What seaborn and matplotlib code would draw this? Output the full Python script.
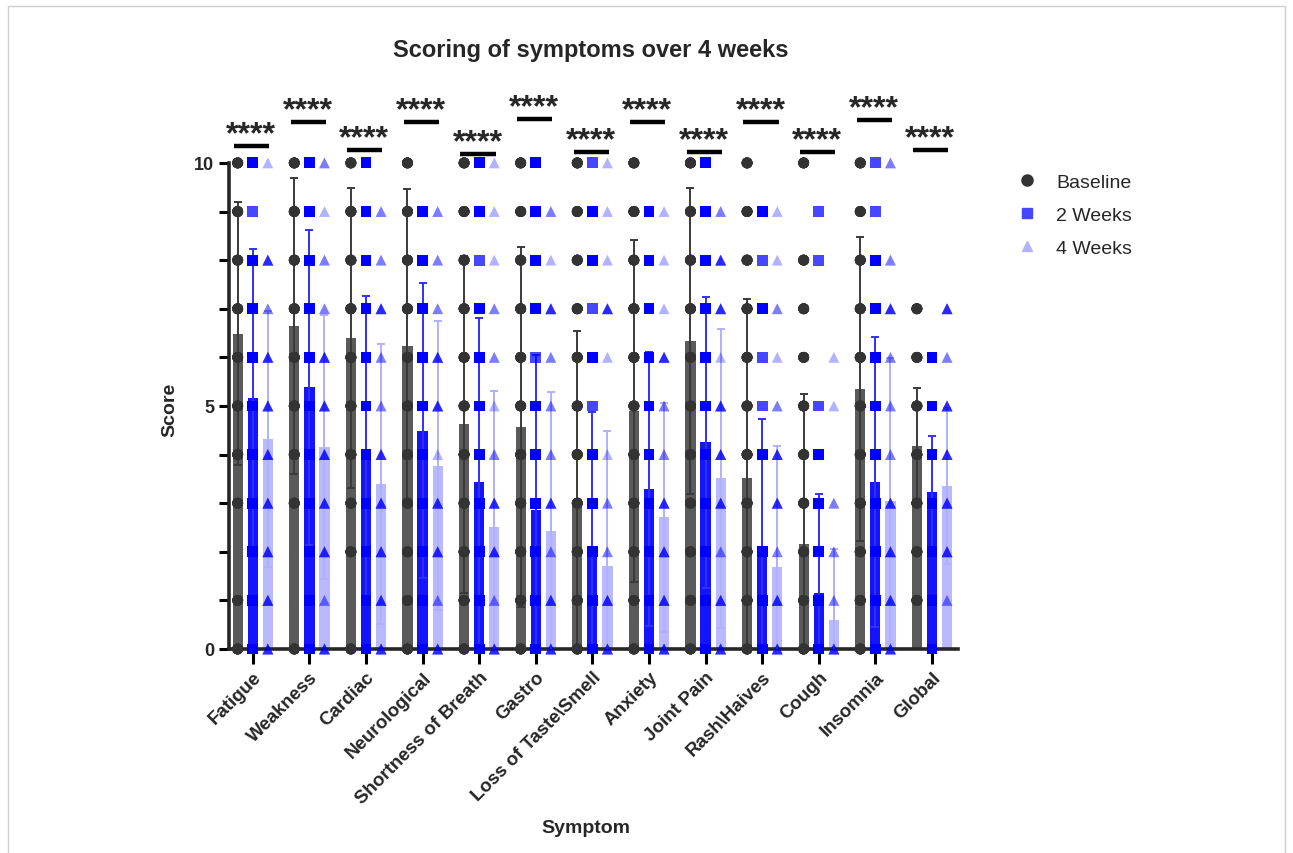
import numpy as np
import pandas as pd
import matplotlib
matplotlib.use("Agg")
import matplotlib.pyplot as plt
from matplotlib.lines import Line2D
from matplotlib.patches import Rectangle
import seaborn as sns

symptoms = ["Fatigue", "Weakness", "Cardiac", "Neurological", "Shortness of Breath", "Gastro",
            "Loss of Taste\\Smell", "Anxiety", "Joint Pain", "Rash\\Haives", "Cough", "Insomnia", "Global"]
timepoints = ["Baseline", "2 Weeks", "4 Weeks"]

baseline_mean = [6.49, 6.64, 6.40, 6.24, 4.62, 4.56, 2.96, 4.90, 6.33, 3.51, 2.17, 5.35, 4.18]
baseline_sd = [2.70, 3.04, 3.09, 3.23, 3.47, 3.70, 3.58, 3.52, 3.15, 3.69, 3.07, 3.13, 1.19]
wk2_mean = [5.16, 5.38, 4.09, 4.49, 3.43, 2.85, 2.09, 3.29, 4.25, 2.06, 1.15, 3.43, 3.24]
wk2_sd = [3.06, 3.24, 3.18, 3.03, 3.38, 3.20, 2.78, 2.81, 3.00, 2.67, 2.04, 2.98, 1.15]
wk4_mean = [4.32, 4.16, 3.40, 3.77, 2.52, 2.43, 1.70, 2.71, 3.51, 1.69, 0.60, 3.05, 3.35]
wk4_sd = [2.63, 2.71, 2.88, 2.97, 2.78, 2.85, 2.79, 2.35, 3.07, 2.49, 1.45, 2.93, 1.60]

# individual scores: character i = score i (0..10); digit = how dense the stack looks
# 0 none, 1 single, 2 a few, 3 many
baseline_pts = ["33033333333", "30033333333", "30333333333", "33333333333", "33333333333",
                "33333333333", "33333333333", "33333333333", "33333333333", "33333333333",
                "33333333303", "33333333333", "03333333000"]
wk2_pts = ["33333333313", "33333333333", "33333333333", "33333333330", "33333333133",
           "33333313333", "33333131331", "33333333330", "33333333333", "33303113130",
           "33333100110", "33333333311", "33333330000"]
wk4_pts = ["33333332301", "32333332212", "33333223220", "32331332220", "32332122111",
           "33232223120", "33221013111", "33332231110", "33233313320", "33233212110",
           "32220110000", "33332223202", "02333323000"]

# significance bar heights (score units) and labels
sig_heights = [10.35, 10.84, 10.27, 10.84, 10.19, 10.90, 10.23, 10.84, 10.23, 10.84, 10.23, 10.88, 10.27]
sig_labels = ["****"] * 13

bar_colors = {"Baseline": "#5a5a5a", "2 Weeks": "#1414ff", "4 Weeks": "#b9b9ff"}
pt_colors = {"Baseline": "#333333", "2 Weeks": "#0000ff", "4 Weeks": "#0000ff"}
pt_alpha = {"Baseline": 1.0, "2 Weeks": 0.72, "4 Weeks": 0.3}
pt_marker = {"Baseline": "o", "2 Weeks": "s", "4 Weeks": "^"}
err_colors = {"Baseline": "#3a3a3a", "2 Weeks": "#3030ff", "4 Weeks": "#b0b0ff"}
stack = {"1": 1, "2": 2, "3": 5}

sns.set_style("ticks")
plt.rcParams["font.family"] = ["Liberation Sans", "DejaVu Sans"]

bars = pd.DataFrame({
    "symptom": symptoms * 3,
    "timepoint": np.repeat(timepoints, len(symptoms)),
    "mean": baseline_mean + wk2_mean + wk4_mean,
    "sd": baseline_sd + wk2_sd + wk4_sd,
})

rows = []
for tp, pts in zip(timepoints, [baseline_pts, wk2_pts, wk4_pts]):
    for sym, code in zip(symptoms, pts):
        for score, level in enumerate(code):
            if level != "0":
                rows += [(sym, tp, score)] * stack[level]
points = pd.DataFrame(rows, columns=["symptom", "timepoint", "score"])

fig = plt.figure(figsize=(12.93, 8.54), dpi=100)
ax = fig.add_axes([229 / 1293, 1 - 650 / 854, 729 / 1293, 559 / 854])

sns.barplot(data=bars, x="symptom", y="mean", hue="timepoint", order=symptoms, hue_order=timepoints,
            palette=bar_colors, width=0.8, gap=0.32, saturation=1, errorbar=None, legend=False,
            linewidth=0, ax=ax, zorder=2)

offsets = {"Baseline": -0.8 / 3, "2 Weeks": 0.0, "4 Weeks": 0.8 / 3}
xpos = np.arange(len(symptoms))
for tp in timepoints:
    sub = bars[bars.timepoint == tp]
    ax.errorbar(xpos + offsets[tp], sub["mean"], yerr=sub["sd"], fmt="none", ecolor=err_colors[tp],
                elinewidth=1.4, capsize=3, capthick=1.4, zorder=3)

for tp in timepoints:
    sns.stripplot(data=points[points.timepoint == tp], x="symptom", y="score", hue="timepoint",
                  order=symptoms, hue_order=timepoints, dodge=True, jitter=False,
                  palette={t: pt_colors[tp] for t in timepoints}, marker=pt_marker[tp],
                  size=7.8, alpha=pt_alpha[tp], linewidth=0, legend=False, ax=ax,
                  clip_on=False, zorder=4)

for i, (h, lab) in enumerate(zip(sig_heights, sig_labels)):
    ax.plot([i - 0.33, i + 0.29], [h, h], color="black", lw=3.2, solid_capstyle="butt", clip_on=False)
    ax.text(i - 0.03, h + 0.08, lab, ha="center", va="baseline", fontsize=23, fontweight="bold",
            clip_on=False)

ax.set_xlim(-0.42, 12.46)
ax.set_ylim(0, 11.5)
ax.set_yticks(range(11))
ax.set_yticklabels(["0", "", "", "", "", "5", "", "", "", "", "10"], fontweight="bold", fontsize=13)
ax.set_xticks(xpos)
ax.set_xticklabels(symptoms, rotation=45, ha="right", rotation_mode="anchor",
                   fontweight="bold", fontsize=13.5)
ax.tick_params(axis="both", direction="out", length=7, width=2.2, color="black")
ax.tick_params(axis="x", length=11, pad=3)

sns.despine(ax=ax)
ax.spines["left"].set_bounds(0, 10)
ax.spines["left"].set_linewidth(2.6)
ax.spines["bottom"].set_linewidth(2.6)

ax.set_ylabel("Score", fontweight="bold", fontsize=14)
ax.yaxis.set_label_coords(-0.07, 0.43)
ax.set_xlabel("Symptom", fontweight="bold", fontsize=14)
ax.xaxis.set_label_coords(0.49, -0.305)

fig.text(591 / 1293, 1 - 50 / 854, "Scoring of symptoms over 4 weeks", ha="center", va="center",
         fontsize=17, fontweight="bold")

handles = [Line2D([], [], linestyle="none", marker="o", markersize=8, color="#333333"),
           Line2D([], [], linestyle="none", marker="s", markersize=7.5, color="#4646ff"),
           Line2D([], [], linestyle="none", marker="^", markersize=7.5, color="#b3b3ff")]
fig.legend(handles, timepoints, loc="upper left", bbox_to_anchor=(998 / 1293, 1 - 157 / 854),
           frameon=False, fontsize=14, handletextpad=0.9, labelspacing=0.78, handlelength=1.2)

fig.patches.append(Rectangle((8 / 1293, -0.05), 1277 / 1293, 1.05 - 7 / 854, transform=fig.transFigure,
                             fill=False, edgecolor="#cfcfcf", linewidth=1.0))

fig.savefig("out.png", dpi=100)
